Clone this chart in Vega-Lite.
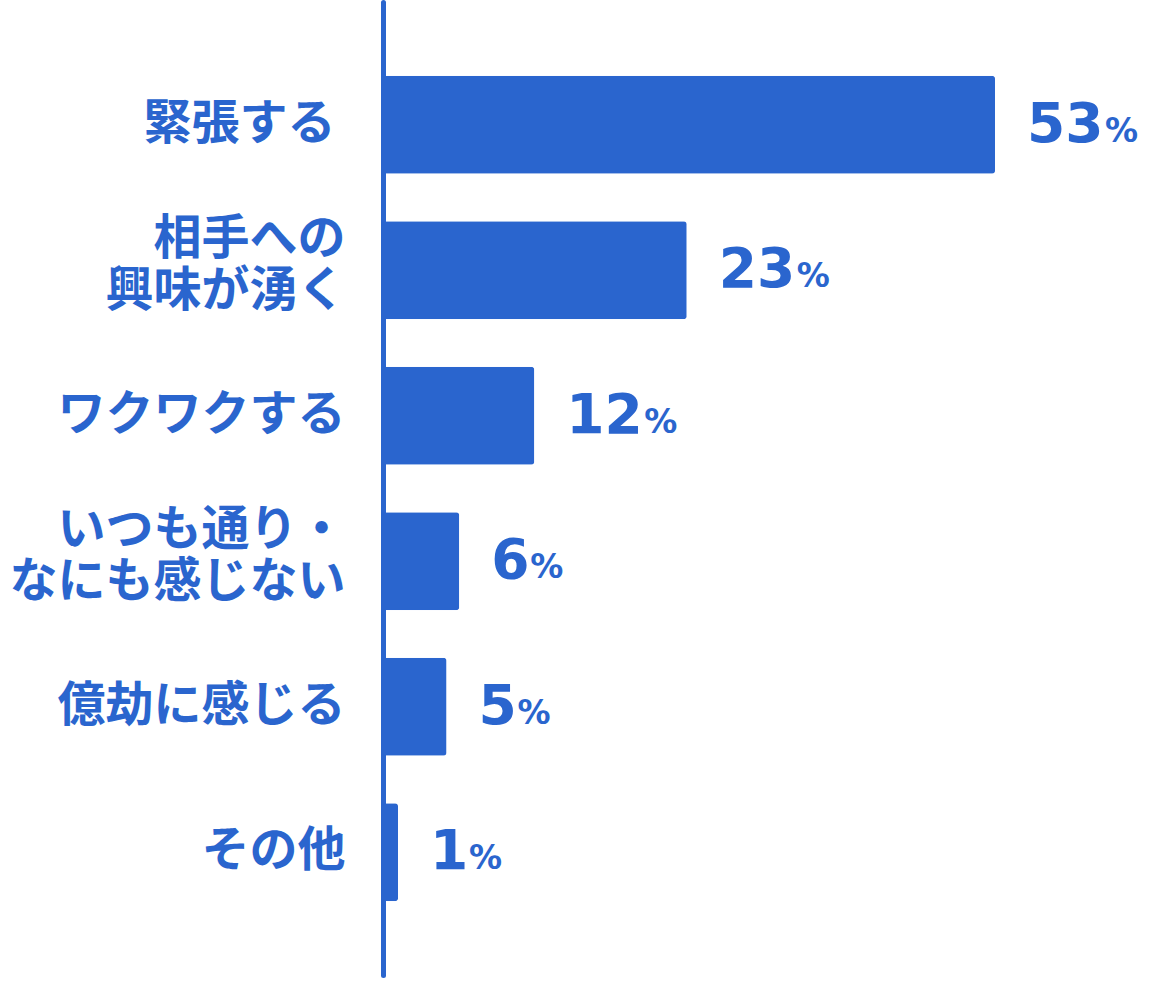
{
  "$schema": "https://vega.github.io/schema/vega-lite/v6.json",
  "autosize": {"type": "none"},
  "padding": {"left": 383, "top": 2, "right": 0, "bottom": 7},
  "width": 767,
  "height": 973,
  "background": "white",
  "config": {"view": {"stroke": null}},
  "data": {
    "values": [
      {"cat": "緊張する", "len": 53, "num": "53", "pct": 53},
      {"cat": "相手への\n興味が湧く", "len": 26.3, "num": "23", "pct": 23},
      {"cat": "ワクワクする", "len": 13.1, "num": "12", "pct": 12},
      {"cat": "いつも通り・\nなにも感じない", "len": 6.6, "num": "6", "pct": 6},
      {"cat": "億劫に感じる", "len": 5.5, "num": "5", "pct": 5},
      {"cat": "その他", "len": 1.3, "num": "1", "pct": 1}
    ]
  },
  "encoding": {
    "y": {
      "field": "cat",
      "type": "nominal",
      "sort": null,
      "scale": {"paddingInner": 0.3265, "paddingOuter": 0.507},
      "axis": {
        "title": null,
        "ticks": false,
        "tickSize": 0,
        "domain": true,
        "domainColor": "#2A65CE",
        "domainWidth": 5,
        "domainCap": "round",
        "labelExpr": "split(datum.value, '\\n')",
        "labelFont": "Noto Sans CJK JP",
        "labelFontWeight": "bold",
        "labelFontSize": 48,
        "labelLineHeight": 52,
        "labelColor": "#2A65CE",
        "labelPadding": {"condition": {"test": "datum.value == '緊張する'", "value": 48}, "value": 38},
        "labelLimit": 0,
        "labelOffset": {"condition": {"test": "indexof(datum.value, '\\n') >= 0", "value": -30}, "value": 0}
      }
    },
    "x": {
      "field": "len",
      "type": "quantitative",
      "scale": {"domain": [0, 66.42], "nice": false, "zero": true},
      "axis": null
    }
  },
  "layer": [
    {"mark": {"type": "bar", "color": "#2A65CE", "cornerRadius": 3}},
    {
      "mark": {"type": "text", "align": "left", "baseline": "alphabetic", "dx": 32, "dy": 17, "font": "DejaVu Sans", "fontWeight": "bold", "fontSize": 55, "color": "#2A65CE"},
      "encoding": {"text": {"field": "num"}}
    },
    {
      "transform": [{"filter": "datum.pct >= 10"}],
      "mark": {"type": "text", "align": "left", "baseline": "alphabetic", "dx": 110, "dy": 17, "font": "DejaVu Sans", "fontWeight": "bold", "fontSize": 33, "color": "#2A65CE", "text": "%"},
      "encoding": {}
    },
    {
      "transform": [{"filter": "datum.pct < 10"}],
      "mark": {"type": "text", "align": "left", "baseline": "alphabetic", "dx": 71, "dy": 17, "font": "DejaVu Sans", "fontWeight": "bold", "fontSize": 33, "color": "#2A65CE", "text": "%"},
      "encoding": {}
    }
  ]
}
